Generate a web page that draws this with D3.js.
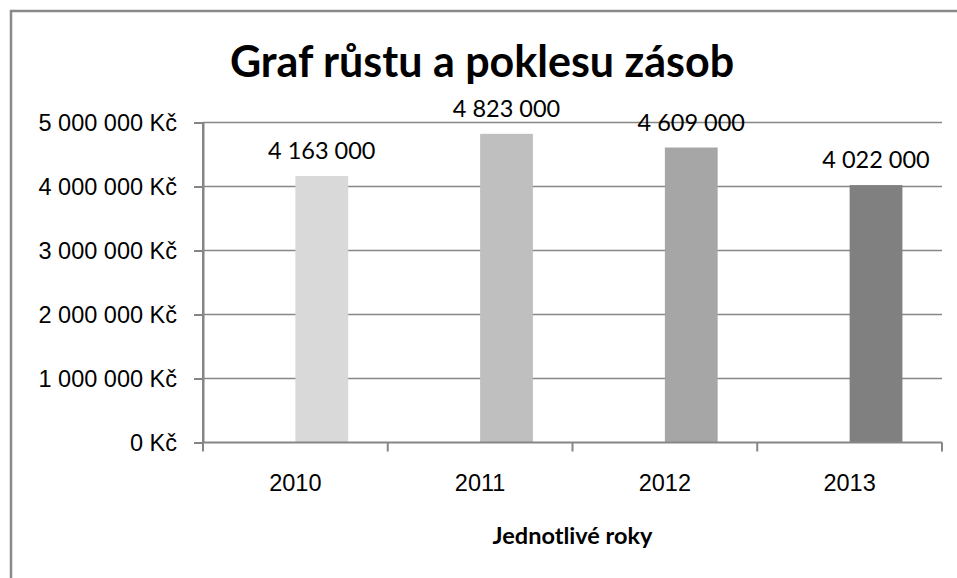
<!DOCTYPE html>
<html lang="cs">
<head>
<meta charset="utf-8">
<title>Graf růstu a poklesu zásob</title>
<script src="https://cdn.jsdelivr.net/npm/d3@7"></script>
<style>
    body { margin: 0; background: #fff; }
    svg { display: block; font-family: Lato, "DejaVu Sans", sans-serif; }
    .grid line { stroke: #878787; stroke-width: 1.5; }
    .axis path, .axis line { stroke: #868686; stroke-width: 2; }
    .axis text { font-size: 23.5px; fill: #000; }
</style>
</head>
<body>
<div id="chart"></div>
<script>
const TITLE = "Graf růstu a poklesu zásob";
const X_TITLE = "Jednotlivé roky";
const YEARS = ["2010", "2011", "2012", "2013"];
// graf v Excelu ma dve rady, prvni je prazdna -> sloupce stoji vpravo od stredu
const SERIES = ["prázdná", "Zásoby"];
const STOCK = [4163000, 4823000, 4609000, 4022000];
const Y_TICKS = [0, 1000000, 2000000, 3000000, 4000000, 5000000];
const BAR_COLORS = ["#d9d9d9", "#bfbfbf", "#a6a6a6", "#808080"];

const cz = d3.formatLocale({
    decimal: ",",
    thousands: "\u00a0",
    grouping: [3],
    currency: ["", "\u00a0Kč"]
});

class StockChart {
    constructor() {
        this.width = 957;
        this.height = 578;
        this.svg = d3.select('#chart')
            .append('svg')
            .attr('width', this.width)
            .attr('height', this.height);
        this.left = 203;
        this.right = 942;
        this.top = 122.5;
        this.bottom = 442.5;
        this.y = d3.scaleLinear()
            .domain([0, 5000000])
            .range([this.bottom, this.top]);
        this.x0 = d3.scaleBand()
            .domain(YEARS)
            .range([this.left, this.right]);
        this.x1 = d3.scaleBand()
            .domain(SERIES)
            .range([0, this.x0.bandwidth()])
            .paddingInner(0)
            .paddingOuter(0.75);
    }

    render() {
        const svg = this.svg;

        // ramecek grafu (vpravo a dole je oriznuty)
        svg.append("rect")
            .attr("x", 11).attr("y", 11)
            .attr("width", 980).attr("height", 600)
            .attr("fill", "#fff")
            .attr("stroke", "#898989")
            .attr("stroke-width", 2.5);

        svg.append("text")
            .attr("x", 482)
            .attr("y", 76.5)
            .attr("text-anchor", "middle")
            .attr("font-size", 43)
            .attr("font-weight", "bold")
            .text(TITLE);

        svg.append("g")
            .attr("class", "grid")
            .selectAll("line")
            .data(Y_TICKS.slice(1))
            .enter()
            .append("line")
            .attr("x1", this.left)
            .attr("x2", this.right)
            .attr("y1", d => this.y(d))
            .attr("y2", d => this.y(d));

        const yAxis = d3.axisLeft(this.y)
            .tickValues(Y_TICKS)
            .tickSize(9)
            .tickSizeOuter(0)
            .tickPadding(17)
            .tickFormat(cz.format("$,.0f"));
        svg.append("g")
            .attr("class", "axis")
            .attr("transform", `translate(${this.left},0)`)
            .call(yAxis);

        const bars = svg.append("g");
        bars.selectAll("rect")
            .data(STOCK)
            .enter()
            .append("rect")
            .attr("x", (d, i) => this.x0(YEARS[i]) + this.x1(SERIES[1]))
            .attr("width", this.x1.bandwidth())
            .attr("y", d => this.y(d))
            .attr("height", d => this.y(0) - this.y(d))
            .attr("fill", (d, i) => BAR_COLORS[i]);

        bars.selectAll("text")
            .data(STOCK)
            .enter()
            .append("text")
            .attr("x", (d, i) => this.x0(YEARS[i]) + this.x1(SERIES[1]) + this.x1.bandwidth() / 2)
            .attr("y", d => this.y(d) - 17)
            .attr("text-anchor", "middle")
            .attr("font-size", 23.5)
            .text(d => cz.format(",.0f")(d));

        const xAxis = d3.axisBottom(this.x0)
            .tickSize(0)
            .tickPadding(32);
        const gx = svg.append("g")
            .attr("class", "axis")
            .attr("transform", `translate(0,${this.bottom})`)
            .call(xAxis);
        gx.select(".domain").attr("d", `M${this.left},0H${this.right}`);

        // znacky na hranicich kategorii
        const edges = YEARS.map(d => this.x0(d)).concat([this.right]);
        gx.selectAll(".edge")
            .data(edges)
            .enter()
            .append("line")
            .attr("class", "edge")
            .attr("x1", d => d).attr("x2", d => d)
            .attr("y1", 0).attr("y2", 9);

        svg.append("line")
            .attr("x1", this.left).attr("x2", this.left)
            .attr("y1", this.top).attr("y2", this.bottom)
            .attr("stroke", "#868686")
            .attr("stroke-width", 2);

        svg.append("text")
            .attr("x", (this.left + this.right) / 2)
            .attr("y", 544)
            .attr("text-anchor", "middle")
            .attr("font-size", 23.5)
            .attr("font-weight", "bold")
            .text(X_TITLE);
    }
}

new StockChart().render();
</script>
</body>
</html>
